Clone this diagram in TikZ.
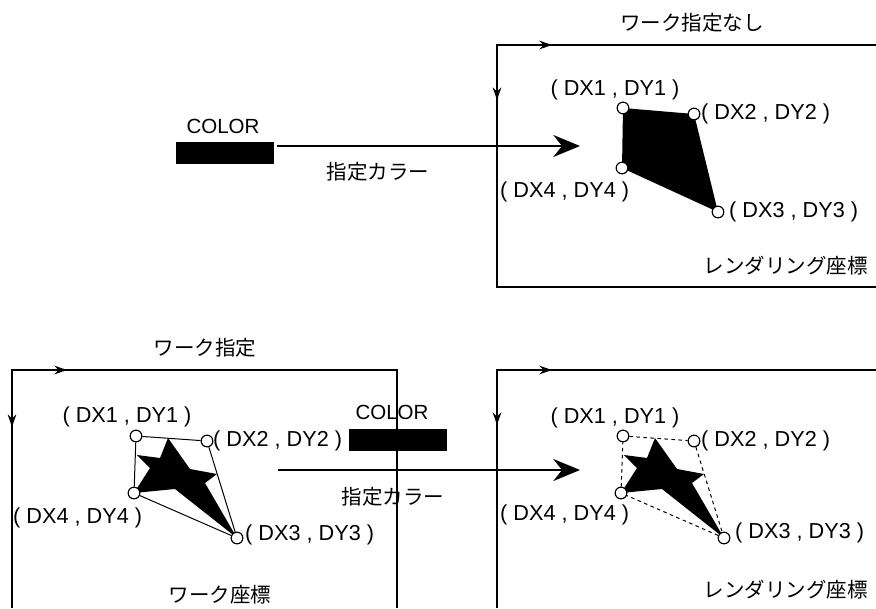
\documentclass[tikz,border=0pt]{standalone}
\usepackage{fontspec}
\setmainfont{Liberation Sans}
\newfontfamily\jpfont{Noto Sans CJK JP}
\usetikzlibrary{arrows.meta,positioning}

\tikzset{
  vtx/.style={draw, circle, fill=white, inner sep=0pt, minimum size=3.5mm, line width=0.35mm},
  lbl/.style={font=\fontsize{17.5}{20}\selectfont, inner sep=0pt},
  ptlbl/.style={font=\fontsize{18.5}{21}\selectfont, inner sep=0pt},
  jlbl/.style={font=\jpfont\fontsize{17.5}{20}\selectfont, inner sep=0pt},
  axis/.style={line width=0.4mm},
  axisarrow/.style={line width=0.4mm, -{Stealth[length=3.8mm, width=2.6mm]}},
  colorbar/.style={fill=black, minimum width=29.4mm, minimum height=6.6mm, inner sep=0pt},
  bigarrow/.style={line width=0.6mm, -{Stealth[length=8mm, width=6.6mm]}},
  edge/.style={line width=0.3mm},
}

\begin{document}
\begin{tikzpicture}[x=0.3mm, y=-0.3mm]
    \useasboundingbox (0,0) rectangle (876,608);

    % top: rendering coordinates, no work
    \draw[axis] (876,45) -- (497,45) -- (497,287) -- (876,287);
    \draw[axisarrow] (497,45) -- (552,45);
    \draw[axisarrow] (497,45) -- (497,100);
    \node[jlbl] (ttl) at (692,23) {ワーク指定なし};
    \node[jlbl, anchor=east] (trc) at (868,266) {レンダリング座標};

    \coordinate (a1) at (623,108);
    \coordinate (a2) at (694,114);
    \coordinate (a3) at (718,212);
    \coordinate (a4) at (622,168);
    \fill (a1) -- (a2) -- (a3) -- (a4) -- cycle;
    \foreach \i in {1,...,4}
        \node[vtx] (av\i) at (a\i) {};
    \node[ptlbl] (al1) at (615,90) {( DX1 , DY1 )};
    \node[ptlbl, anchor=west] (al2) at (701,114) {( DX2 , DY2 )};
    \node[ptlbl, anchor=west] (al3) at (729,212) {( DX3 , DY3 )};
    \node[ptlbl, anchor=west] (al4) at (500,192) {( DX4 , DY4 )};

    \node[colorbar] (bar1) at (225,153) {};
    \node[lbl] (col1) at (223,126) {COLOR};
    \node[jlbl] (sc1) at (378,172) {指定カラー};
    \coordinate (s1) at (277,146);
    \coordinate (e1) at (580,146);
    \draw[bigarrow] (s1) -- (e1);

    % bottom left: work coordinates
    \draw[axis] (397,608) -- (397,370) -- (12,370) -- (12,608);
    \draw[axisarrow] (12,370) -- (67,370);
    \draw[axisarrow] (12,370) -- (12,427);
    \node[jlbl] (wt) at (205,348) {ワーク指定};
    \node[jlbl] (wc) at (220,595) {ワーク座標};

    \coordinate (b1) at (136,436);
    \coordinate (b2) at (207,441);
    \coordinate (b3) at (237,538);
    \coordinate (b4) at (134,493);
    \fill (168,438) -- (190,469) -- (217,474) -- (205,483) -- (b3) -- (175,489)
        -- (b4) -- (150,468) -- (137,455) -- (160,458) -- cycle;
    \foreach \i in {1,...,4}
        \node[vtx] (bv\i) at (b\i) {};
    \draw[edge] (bv1) -- (bv2) -- (bv3) -- (bv4) -- (bv1);
    \node[ptlbl] (bl1) at (127,417) {( DX1 , DY1 )};
    \node[ptlbl, anchor=west] (bl2) at (213,441) {( DX2 , DY2 )};
    \node[ptlbl, anchor=west] (bl3) at (245,535) {( DX3 , DY3 )};
    \node[ptlbl, anchor=west] (bl4) at (13,518) {( DX4 , DY4 )};

    % bottom right: rendering coordinates
    \draw[axis] (876,370) -- (497,370) -- (497,608);
    \draw[axisarrow] (497,370) -- (552,370);
    \draw[axisarrow] (497,370) -- (497,425);
    \node[jlbl, anchor=east] (brc) at (868,590) {レンダリング座標};

    \begin{scope}[shift={(487,0)}]
        \coordinate (c1) at (136,436);
        \coordinate (c2) at (207,441);
        \coordinate (c3) at (237,538);
        \coordinate (c4) at (134,493);
        \fill (168,438) -- (190,469) -- (217,474) -- (205,483) -- (c3) -- (175,489)
            -- (c4) -- (150,468) -- (137,455) -- (160,458) -- cycle;
        \foreach \i in {1,...,4}
            \node[vtx] (cv\i) at (c\i) {};
        \draw[edge, dashed] (cv1) -- (cv2) -- (cv3) -- (cv4) -- (cv1);
        \node[ptlbl] (cl1) at (128,418) {( DX1 , DY1 )};
        \node[ptlbl, anchor=west] (cl2) at (214,441) {( DX2 , DY2 )};
        \node[ptlbl, anchor=west] (cl3) at (248,533) {( DX3 , DY3 )};
        \node[ptlbl, anchor=west] (cl4) at (13,515) {( DX4 , DY4 )};
    \end{scope}

    \node[colorbar] (bar2) at (397.5,439.5) {};
    \node[lbl] (col2) at (392,412) {COLOR};
    \node[jlbl] (sc2) at (393,497) {指定カラー};
    \coordinate (s2) at (278,470);
    \coordinate (e2) at (580,470);
    \draw[bigarrow] (s2) -- (e2);
\end{tikzpicture}
\end{document}
